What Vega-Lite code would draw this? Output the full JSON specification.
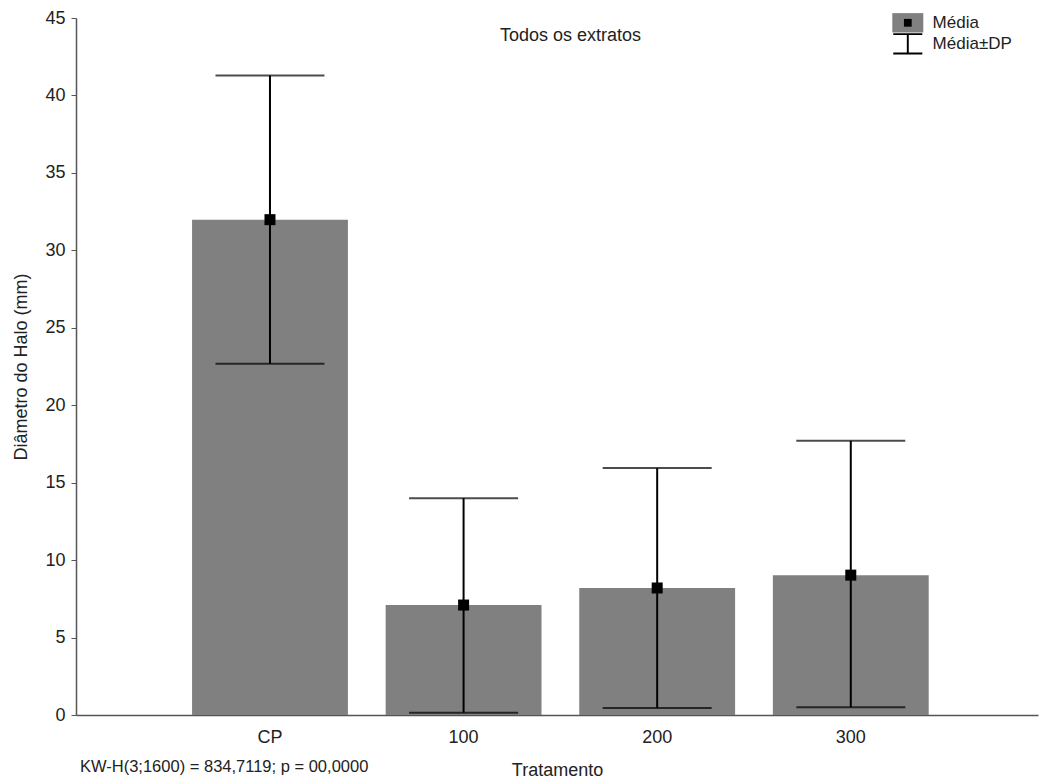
{
  "$schema": "https://vega.github.io/schema/vega-lite/v6.json",
  "width": 962,
  "height": 697,
  "autosize": {"type": "none"},
  "padding": {"left": 76, "top": 18, "right": 1, "bottom": 66},
  "background": "white",
  "config": {
    "view": {"stroke": null},
    "font": "Liberation Sans",
    "axis": {
      "labelFont": "Liberation Sans",
      "labelFontSize": 18,
      "labelColor": "#222222",
      "titleFont": "Liberation Sans",
      "titleFontSize": 18,
      "titleFontWeight": "normal",
      "titleColor": "#222222",
      "grid": false,
      "domainColor": "#555555",
      "domainWidth": 1.5,
      "tickColor": "#555555",
      "tickWidth": 1
    }
  },
  "title": {
    "text": "KW-H(3;1600) = 834,7119; p = 00,0000",
    "orient": "bottom",
    "anchor": "start",
    "frame": "group",
    "offset": -20,
    "dx": 4,
    "font": "Liberation Sans",
    "fontSize": 16.5,
    "fontWeight": "normal",
    "color": "#222222"
  },
  "data": {
    "values": [
      {"t": "CP", "mean": 31.98, "lo": 22.67, "hi": 41.28},
      {"t": "100", "mean": 7.1, "lo": 0.15, "hi": 14.0},
      {"t": "200", "mean": 8.2, "lo": 0.46, "hi": 15.94},
      {"t": "300", "mean": 9.03, "lo": 0.5, "hi": 17.7}
    ]
  },
  "layer": [
    {
      "mark": {"type": "bar", "color": "#808080"},
      "encoding": {
        "x": {
          "field": "t",
          "type": "nominal",
          "sort": null,
          "scale": {"type": "band", "domain": ["CP", "100", "200", "300"], "paddingInner": 0.195, "paddingOuter": 0.582, "align": 0.515},
          "axis": {"title": "Tratamento", "labelAngle": 0, "tickSize": -4, "labelPadding": 17, "titlePadding": 15}
        },
        "y": {
          "field": "mean",
          "type": "quantitative",
          "title": "Diâmetro do Halo (mm)",
          "scale": {"domain": [0, 45], "nice": false},
          "axis": {"values": [0, 5, 10, 15, 20, 25, 30, 35, 40, 45], "tickSize": 5, "labelPadding": 6, "titlePadding": 14}
        },
        "fill": {
          "datum": "bar",
          "scale": {"domain": ["bar"], "range": ["#808080"]},
          "legend": {
            "orient": "none",
            "legendX": 821.8,
            "legendY": -5.2,
            "title": null,
            "symbolType": "M-1.6,-1H1.6V1H-1.6Z",
            "symbolSize": 375,
            "symbolStrokeWidth": 0,
            "labelExpr": "''",
            "labelFont": "Liberation Sans",
            "labelFontSize": 17,
            "labelOffset": 14.8,
            "padding": 0,
            "zindex": 0
          }
        }
      }
    },
    {
      "mark": {"type": "rule", "color": "black", "strokeWidth": 2},
      "encoding": {
        "x": {
          "field": "t",
          "type": "nominal",
          "sort": null,
          "axis": {"orient": "top", "domain": false, "ticks": false, "labels": false, "title": "Todos os extratos", "titleX": 494, "titleY": 22, "titleAlign": "center", "titleBaseline": "alphabetic", "titleFontSize": 18}
        },
        "y": {"field": "lo", "type": "quantitative", "title": "Diâmetro do Halo (mm)"},
        "y2": {"field": "hi"}
      }
    },
    {
      "mark": {"type": "tick", "color": "black", "size": 109, "thickness": 2},
      "encoding": {
        "x": {"field": "t", "type": "nominal", "sort": null, "axis": null},
        "y": {"field": "lo", "type": "quantitative", "title": "Diâmetro do Halo (mm)"}
      }
    },
    {
      "mark": {"type": "tick", "color": "black", "size": 109, "thickness": 2},
      "encoding": {
        "x": {"field": "t", "type": "nominal", "sort": null, "axis": null},
        "y": {"field": "hi", "type": "quantitative", "title": "Diâmetro do Halo (mm)"}
      }
    },
    {
      "mark": {"type": "point", "filled": true, "fill": "black", "strokeWidth": 0, "size": 756, "opacity": 1},
      "encoding": {
        "x": {"field": "t", "type": "nominal", "sort": null, "axis": null},
        "y": {"field": "mean", "type": "quantitative", "title": "Diâmetro do Halo (mm)"},
        "shape": {
          "datum": "Média",
          "scale": {"domain": ["Média", "Média±DP"], "range": ["M-0.4,-0.4H0.4V0.4H-0.4Z", "M-1.5,-1.1H1.5V-0.9H0.1V0.9H1.5V1.1H-1.5V0.9H-0.1V-0.9H-1.5Z"]},
          "legend": {
            "orient": "none",
            "legendX": 821.8,
            "legendY": -5.2,
            "title": null,
            "symbolSize": 375,
            "symbolFillColor": "black",
            "symbolStrokeWidth": 0,
            "labelFont": "Liberation Sans",
            "labelFontSize": 17,
            "labelColor": "#222222",
            "labelOffset": 14.8,
            "padding": 0,
            "zindex": 1,
            "encoding": {
              "symbols": {
                "update": {
                  "fill": {"value": "black"},
                  "strokeWidth": {"value": 0},
                  "opacity": {"value": 1}
                }
              }
            }
          }
        }
      }
    }
  ],
  "resolve": {"axis": {"x": "independent"}}
}
